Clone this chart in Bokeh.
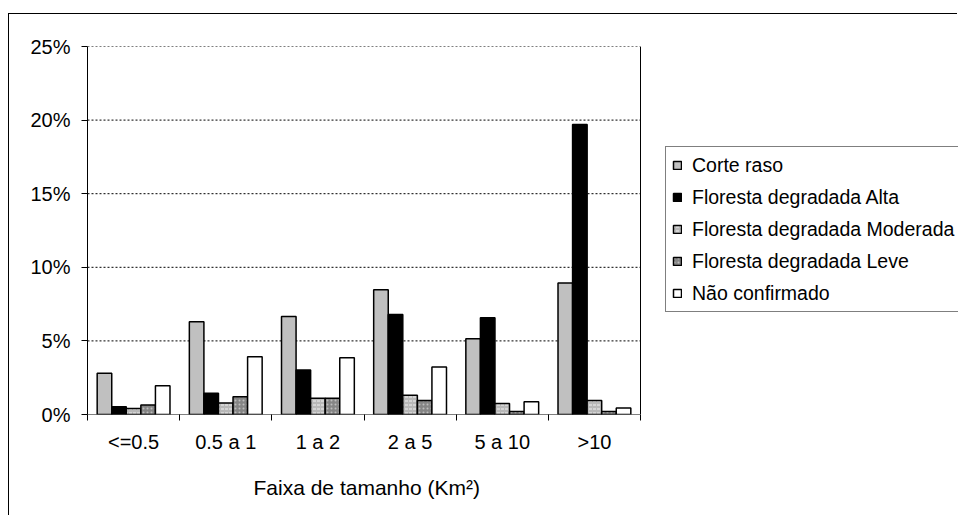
from bokeh.plotting import figure
from bokeh.models import (ColumnDataSource, Legend, LegendItem, Title,
                          FixedTicker, Range1d)
from bokeh.transform import dodge
from bokeh.embed import file_html
from bokeh.resources import INLINE

categories = ["<=0.5", "0.5 a 1", "1 a 2", "2 a 5", "5 a 10", ">10"]
corte_raso = [2.81, 6.3, 6.66, 8.48, 5.14, 8.93]
floresta_alta = [0.53, 1.45, 3.02, 6.8, 6.57, 19.7]
floresta_moderada = [0.41, 0.78, 1.11, 1.3, 0.75, 0.95]
floresta_leve = [0.65, 1.2, 1.11, 0.95, 0.2, 0.2]
nao_confirmado = [1.96, 3.92, 3.86, 3.23, 0.86, 0.45]
series_names = ["Corte raso", "Floresta degradada Alta",
                "Floresta degradada Moderada", "Floresta degradada Leve",
                "Não confirmado"]
y_ticks = [0, 5, 10, 15, 20, 25]

FONT = "Liberation Sans"
FS = "20px"

# layout (pixels): plot area spans 553 px of an 871 px wide frame,
# the rest of the frame holds the legend
PLOT_W, FRAME_W = 553, 871
n = len(categories)
x_end = n * FRAME_W / PLOT_W

centers = [i + 0.5 for i in range(n)]
source = ColumnDataSource(dict(x=centers, cr=corte_raso, fa=floresta_alta,
                               fm=floresta_moderada, fl=floresta_leve,
                               nc=nao_confirmado))

p = figure(width=949, height=502, x_range=Range1d(0, x_end),
           y_range=Range1d(y_ticks[0], y_ticks[-1]),
           output_backend="svg", toolbar_location=None,
           min_border_left=78, min_border_top=32, min_border_right=0,
           min_border_bottom=102)
p.styles = {"border-left": "1px solid #000", "border-top": "1px solid #000",
            "margin-top": "13px", "margin-left": "8px"}
p.outline_line_color = None
p.background_fill_color = "white"

# gridlines and plot-area border, limited to the category span
p.segment(x0=[0] * (len(y_ticks) - 1), x1=[n] * (len(y_ticks) - 1),
          y0=y_ticks[1:], y1=y_ticks[1:], line_color="black",
          line_dash="2 2", line_width=1)
p.segment(x0=[0], x1=[n], y0=[y_ticks[0]], y1=[y_ticks[0]],
          line_color="black", line_width=1)
p.segment(x0=[n], x1=[n], y0=[y_ticks[0]], y1=[y_ticks[-1]],
          line_color="black", line_width=1)

bw = 0.158
styles = [
    dict(field="cr", fill_color="#c0c0c0"),
    dict(field="fa", fill_color="#000000"),
    dict(field="fm", fill_color="#b8b8b8", hatch_pattern="horizontal_dash",
         hatch_color="#f0f0f0", hatch_scale=4, hatch_weight=1),
    dict(field="fl", fill_color="#858585", hatch_pattern="dot",
         hatch_color="#bdbdbd", hatch_scale=4, hatch_weight=1),
    dict(field="nc", fill_color="#ffffff"),
]
renderers = []
for k, st in enumerate(styles):
    field = st.pop("field")
    r = p.vbar(x=dodge("x", (k - 2) * bw, range=p.x_range), top=field,
               width=bw, source=source, line_color="black", line_width=1.5,
               **st)
    renderers.append(r)

# y axis
p.yaxis.ticker = FixedTicker(ticks=y_ticks)
p.yaxis.major_label_overrides = {t: f"{t}%" for t in y_ticks}
p.yaxis.major_label_text_font = FONT
p.yaxis.major_label_text_font_size = FS
p.yaxis.major_label_text_color = "black"
p.yaxis.major_tick_out = 6
p.yaxis.major_tick_in = 0
p.yaxis.minor_tick_line_color = None
p.yaxis.axis_line_color = "black"
p.yaxis.major_tick_line_color = "black"
p.yaxis.major_label_standoff = 11

# x axis
p.xaxis.ticker = FixedTicker(ticks=centers, minor_ticks=list(range(n + 1)))
p.xaxis.major_label_overrides = {c: cat for c, cat in zip(centers, categories)}
p.xaxis.major_tick_line_color = None
p.xaxis.major_tick_out = 0
p.xaxis.major_tick_in = 0
p.xaxis.minor_tick_out = 6
p.xaxis.minor_tick_in = 0
p.xaxis.minor_tick_line_color = "black"
p.xaxis.axis_line_color = None
p.xaxis.major_label_text_font = FONT
p.xaxis.major_label_text_font_size = FS
p.xaxis.major_label_text_color = "black"
p.xaxis.major_label_standoff = 10

p.xgrid.visible = False
p.ygrid.visible = False

p.add_layout(Title(text="Faixa de tamanho (Km²)", align="left", offset=166,
                   text_font=FONT, text_font_size="21px",
                   text_font_style="normal", text_color="black",
                   standoff=36), "below")

legend = Legend(items=[LegendItem(label=s, renderers=[r])
                       for s, r in zip(series_names, renderers)],
                location=(578, 102))
legend.label_text_font = FONT
legend.label_text_font_size = "19.5px"
legend.label_text_color = "black"
legend.glyph_width = 10
legend.glyph_height = 10
legend.label_standoff = 10
legend.label_height = 24
legend.padding = 6
legend.spacing = 8
legend.margin = 0
legend.border_line_color = "black"
legend.border_line_width = 1
legend.background_fill_color = "white"
legend.background_fill_alpha = 1
p.add_layout(legend, "center")

open("out.html", "w").write(file_html(p, INLINE))
